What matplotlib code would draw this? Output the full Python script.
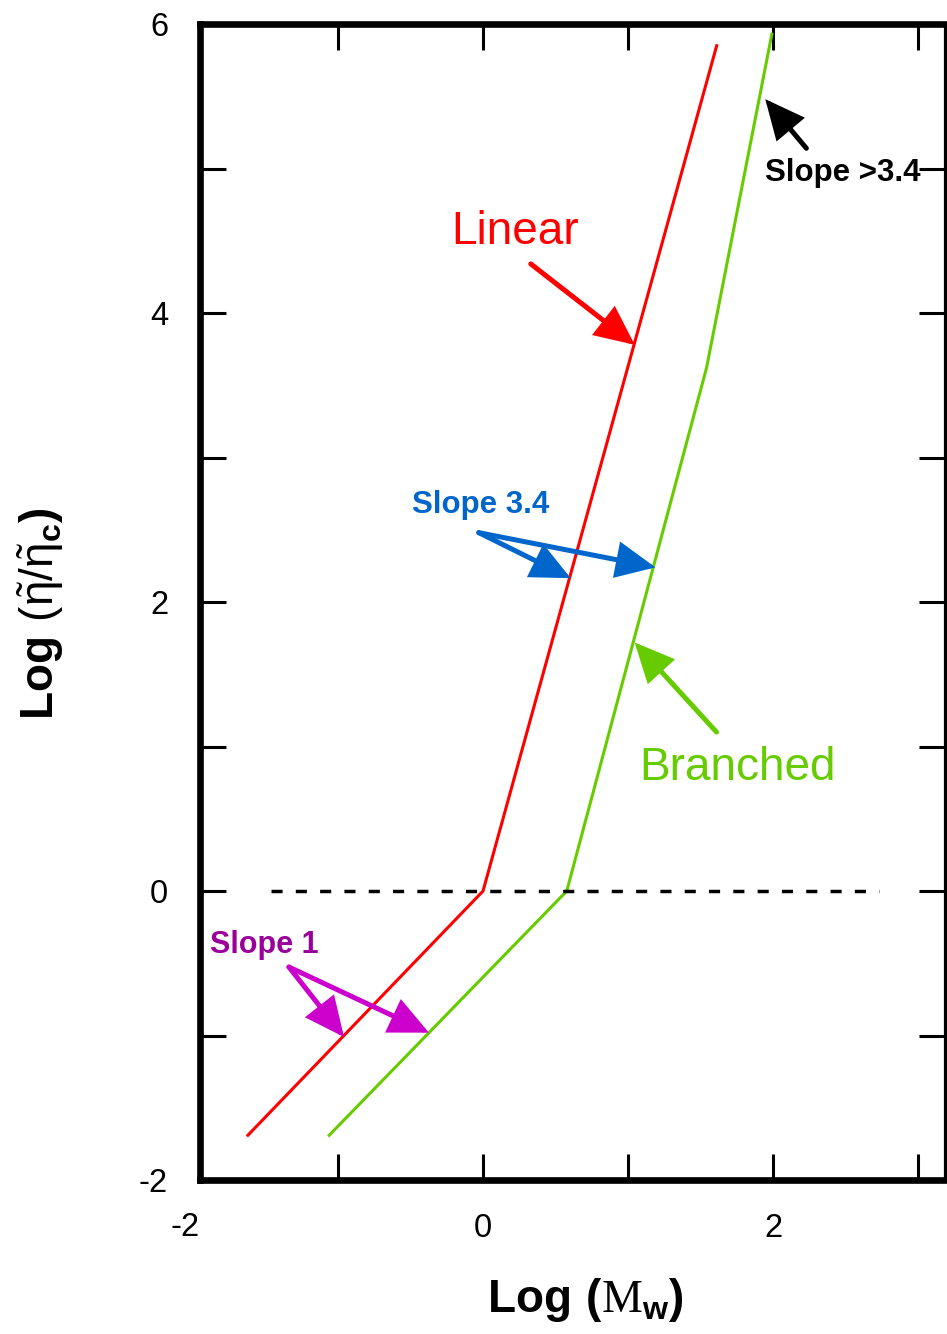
import matplotlib
matplotlib.use("Agg")
import matplotlib.pyplot as plt
import matplotlib.transforms as mtransforms

plt.rcParams['font.family'] = ['Liberation Sans', 'DejaVu Sans']
plt.rcParams['mathtext.fontset'] = 'custom'
plt.rcParams['mathtext.rm'] = 'Liberation Serif'
plt.rcParams['mathtext.sf'] = 'Liberation Sans'
plt.rcParams['mathtext.bf'] = 'Liberation Sans:bold'

# curves: log viscosity ratio vs log molecular weight
linear_x = [-1.62, 0.0, 1.61]
linear_y = [-1.69, 0.0, 5.85]
branched_x = [-1.06, 0.577, 1.54, 1.99]
branched_y = [-1.69, 0.0, 3.62, 5.93]
ref_x = [-1.46, 2.73]
ref_y = [0.0, 0.0]

xticks = [-1, 0, 1, 2, 3]
xticklabels = ['', '0', '', '2', '']
yticks = [-2, -1, 0, 1, 2, 3, 4, 5, 6]
yticklabels = ['-2', '', '0', '', '2', '', '4', '', '6']

RED = '#ff0000'
GREEN = '#66cc00'
BLUE = '#0066cc'
MAG_TXT = '#990099'
MAG = '#cc00cc'

fig = plt.figure(figsize=(9.47, 13.34), dpi=100)
ax = fig.add_axes([0.2112, 0.1154, 0.9974 - 0.2112, 0.982 - 0.1154])

ax.plot(linear_x, linear_y, color=RED, lw=2.2, solid_joinstyle='miter')
ax.plot(branched_x, branched_y, color=GREEN, lw=2.2, solid_joinstyle='miter')
ax.plot(ref_x, ref_y, color='black', lw=2.5, dashes=(3.2, 3.8))

ax.set_xlim(-1.95, 3.18)
ax.set_ylim(-2, 6)
ax.set_xticks(xticks)
ax.set_xticklabels(xticklabels)
ax.set_yticks(yticks)
ax.set_yticklabels(yticklabels)
ax.tick_params(axis='both', direction='in', length=19, width=2.2,
               labelsize=23.5, top=True, right=True)
ax.tick_params(axis='x', pad=24)
ax.tick_params(axis='y', pad=23)
# -2 on the x axis sits just left of the plotting area
ax.text(-2.05, -0.028, '-2', fontsize=23.5, ha='center', va='top',
        transform=mtransforms.blended_transform_factory(ax.transData, ax.transAxes))

for side in ['left', 'bottom', 'top']:
    ax.spines[side].set_linewidth(4.8)
ax.spines['right'].set_linewidth(2.3)

ax.set_xlabel(r'$\mathbf{Log\ (}\mathrm{M}_{\mathbf{w}}\mathbf{)}$', fontsize=33)
ax.set_ylabel(r'$\mathbf{Log}\ \mathsf{(}\tilde{\mathsf{\eta}}\mathsf{/}\tilde{\mathsf{\eta}}_{\mathbf{c}}\mathbf{)}$',
              fontsize=33)
ax.xaxis.set_label_coords(0.517, -0.083)
ax.yaxis.set_label_coords(-0.18, 0.49)


def arrow(start, tip, color):
    ax.annotate('', xy=tip, xytext=start,
                arrowprops=dict(arrowstyle='-|>,head_length=1.5,head_width=0.7',
                                mutation_scale=15, lw=3.6, color=color,
                                shrinkA=0, shrinkB=0, capstyle='round',
                                joinstyle='miter'))


ax.text(0.218, 4.56, 'Linear', color=RED, fontsize=33, ha='center', va='center')
arrow((0.329, 4.34), (1.045, 3.78), RED)

ax.text(1.753, 0.85, 'Branched', color=GREEN, fontsize=33, ha='center', va='center')
arrow((1.609, 1.10), (1.045, 1.72), GREEN)

ax.text(-0.015, 2.67, 'Slope 3.4', color=BLUE, fontsize=22.5, fontweight='bold',
        ha='center', va='center')
arrow((-0.029, 2.48), (0.604, 2.165), BLUE)
arrow((-0.029, 2.48), (1.188, 2.24), BLUE)

ax.text(2.477, 4.97, 'Slope >3.4', color='black', fontsize=22.5, fontweight='bold',
        ha='center', va='center')
arrow((2.228, 5.14), (1.945, 5.48), 'black')

ax.text(-1.51, -0.373, 'Slope 1', color=MAG_TXT, fontsize=22, fontweight='bold',
        ha='center', va='center')
arrow((-1.337, -0.526), (-0.958, -1.01), MAG)
arrow((-1.337, -0.526), (-0.373, -0.98), MAG)

fig.savefig('out.png', dpi=100)
